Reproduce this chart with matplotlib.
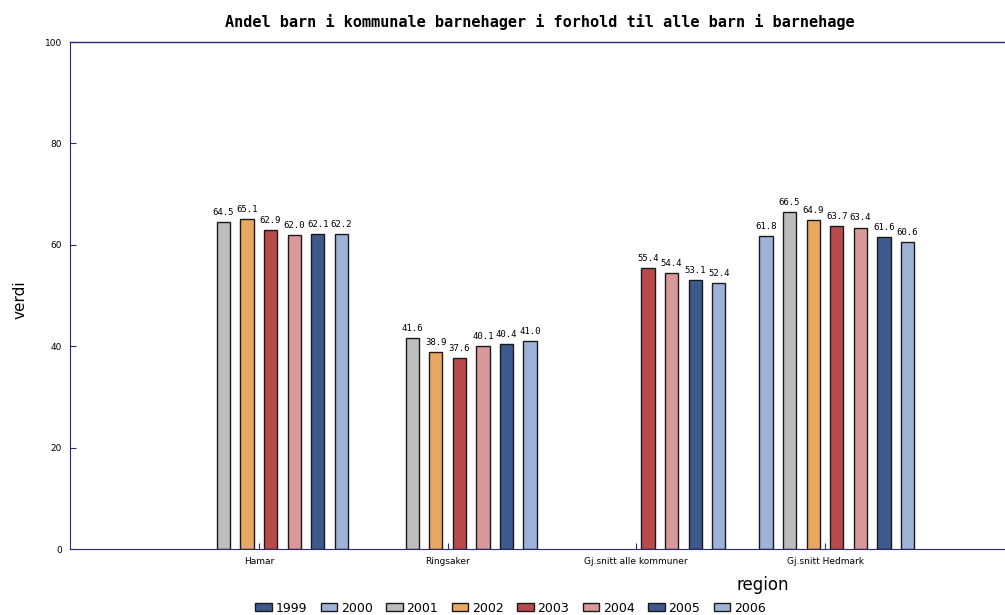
import matplotlib.pyplot as plt
import numpy as np
from matplotlib.patches import Patch

# data
regions = ["Hamar", "Ringsaker", "Gj.snitt alle kommuner", "Gj.snitt Hedmark"]
years = ["1999", "2000", "2001", "2002", "2003", "2004", "2005", "2006"]
nan = np.nan
v1999 = [nan, nan, nan, nan]
v2000 = [nan, nan, nan, 61.8]
v2001 = [64.5, 41.6, nan, 66.5]
v2002 = [65.1, 38.9, nan, 64.9]
v2003 = [62.9, 37.6, 55.4, 63.7]
v2004 = [62.0, 40.1, 54.4, 63.4]
v2005 = [62.1, 40.4, 53.1, 61.6]
v2006 = [62.2, 41.0, 52.4, 60.6]
series = [v1999, v2000, v2001, v2002, v2003, v2004, v2005, v2006]

colors = ["#3e5a8c", "#9fb2d8", "#bdbdbd", "#e8a862", "#b84a4c",
          "#d99899", "#3e5a8c", "#9fb2d8"]

fig = plt.figure(figsize=(10.05, 6.15), dpi=100)
ax = fig.add_axes([0.0697, 0.1073, 0.939, 0.8244])

x = np.arange(len(regions))
slot = 0.125
width = 0.07
for i, (vals, c) in enumerate(zip(series, colors)):
    pos = x + (i - 3.5) * slot
    ax.bar(pos, vals, width=width, color=c, edgecolor="#1a1a1a", linewidth=1.0)
    for px, v in zip(pos, vals):
        if not np.isnan(v):
            ax.text(px, v + 1.0, f"{v:.1f}", ha="center", va="bottom",
                    fontsize=6.5, family="DejaVu Sans Mono")

ax.set_xlim(-1.0, 4.0)
ax.set_ylim(0, 100)
ax.set_yticks([0, 20, 40, 60, 80, 100])
ax.set_xticks(x)
ax.set_xticklabels(regions)
ax.tick_params(axis="both", direction="in", length=4, color="#2a2a7a",
               labelsize=6.5, pad=6)
for s in ["top", "right"]:
    ax.spines[s].set_visible(False)
for s in ["left", "bottom"]:
    ax.spines[s].set_color("#2a2a7a")
ax.plot([-1.0, 4.0], [100, 100], color="#2a2a7a", lw=1, clip_on=False)

fig.text(0.537, 0.965, "Andel barn i kommunale barnehager i forhold til alle barn i barnehage",
         ha="center", va="center", fontsize=11, family="DejaVu Sans Mono", weight="bold")
fig.text(0.020, 0.512, "verdi", rotation=90, ha="center", va="center", fontsize=11)
fig.text(0.759, 0.049, "region", ha="center", va="center", fontsize=12)

handles = [Patch(facecolor=c, edgecolor="#1a1a1a", label=y) for y, c in zip(years, colors)]
fig.legend(handles=handles, loc="center", bbox_to_anchor=(0.508, 0.011), ncol=8,
           frameon=False, fontsize=9, handlelength=1.3, handleheight=0.6,
           handletextpad=0.3, columnspacing=1.1, borderpad=0)

fig.savefig("out.png", dpi=100)
